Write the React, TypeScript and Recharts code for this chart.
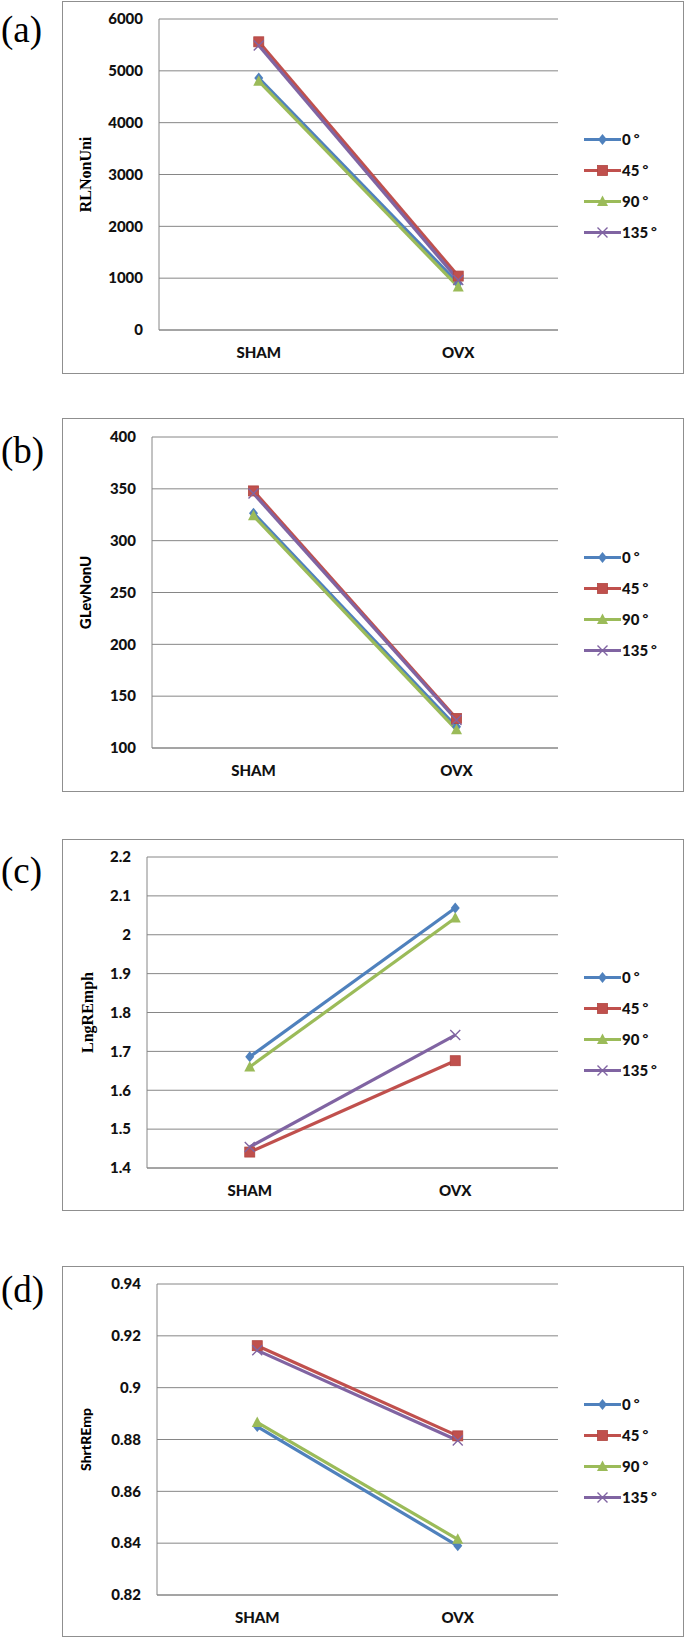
import React from "react";
import { LineChart, Line, XAxis, YAxis, CartesianGrid, Legend, Label } from "recharts";

const groups = ["SHAM", "OVX"];
const angles = ["0°", "45°", "90°", "135°"];
const colors = ["#4F81BD", "#C0504D", "#9BBB59", "#8064A2"];
const shapes = ["diamond", "square", "triangle", "cross"];

// (a) RLNonUni
const rlDeg0 = [4860, 900];
const rlDeg45 = [5560, 1040];
const rlDeg90 = [4800, 830];
const rlDeg135 = [5490, 965];
const rlTicks = [0, 1000, 2000, 3000, 4000, 5000, 6000];

// (b) GLevNonU
const glDeg0 = [326.5, 120.5];
const glDeg45 = [348, 128.5];
const glDeg90 = [324, 117.5];
const glDeg135 = [345.5, 127];
const glTicks = [100, 150, 200, 250, 300, 350, 400];

// (c) LngREmph
const lngDeg0 = [1.686, 2.069];
const lngDeg45 = [1.441, 1.676];
const lngDeg90 = [1.66, 2.043];
const lngDeg135 = [1.454, 1.742];
const lngTicks = [1.4, 1.5, 1.6, 1.7, 1.8, 1.9, 2, 2.1, 2.2];

// (d) ShrtREmp
const shrtDeg0 = [0.885, 0.839];
const shrtDeg45 = [0.9162, 0.8814];
const shrtDeg90 = [0.8866, 0.8415];
const shrtDeg135 = [0.9144, 0.8796];
const shrtTicks = [0.82, 0.84, 0.86, 0.88, 0.9, 0.92, 0.94];

const makeRows = (series: number[][]) =>
  groups.map((g, i) => ({
    group: g,
    s0: series[0][i],
    s1: series[1][i],
    s2: series[2][i],
    s3: series[3][i],
  }));

const panels = [
  {
    tag: "(a)", title: "RLNonUni", serif: true, titleSize: 16,
    rows: makeRows([rlDeg0, rlDeg45, rlDeg90, rlDeg135]), ticks: rlTicks,
    boxTop: 1, boxBottom: 374, plotTop: 19, plotBottom: 330, axisX: 159, tagY: 31, titleX: 85,
  },
  {
    tag: "(b)", title: "GLevNonU", serif: false, titleSize: 15,
    rows: makeRows([glDeg0, glDeg45, glDeg90, glDeg135]), ticks: glTicks,
    boxTop: 418, boxBottom: 792, plotTop: 437, plotBottom: 748, axisX: 152, tagY: 452, titleX: 85,
  },
  {
    tag: "(c)", title: "LngREmph", serif: true, titleSize: 16,
    rows: makeRows([lngDeg0, lngDeg45, lngDeg90, lngDeg135]), ticks: lngTicks,
    boxTop: 839, boxBottom: 1211, plotTop: 857, plotBottom: 1168, axisX: 147, tagY: 872, titleX: 87,
  },
  {
    tag: "(d)", title: "ShrtREmp", serif: false, titleSize: 14,
    rows: makeRows([shrtDeg0, shrtDeg45, shrtDeg90, shrtDeg135]), ticks: shrtTicks,
    boxTop: 1266, boxBottom: 1637, plotTop: 1284, plotBottom: 1595, axisX: 157, tagY: 1291, titleX: 85,
  },
];

const BOX_LEFT = 62;
const BOX_W = 622;
const PLOT_RIGHT = 558;
const GRID = "#868686";
const tickStyle = { fontFamily: "Lato", fontWeight: 900, fontSize: 15, fill: "#111" };

function Marker({ cx, cy, shape, color }: any) {
  if (cx == null || cy == null) return null;
  if (shape === "diamond")
    return <polygon points={`${cx},${cy - 5.5} ${cx + 4.5},${cy} ${cx},${cy + 5.5} ${cx - 4.5},${cy}`} fill={color} />;
  if (shape === "square")
    return <rect x={cx - 5} y={cy - 5} width={10} height={10} fill={color} stroke="#b04540" strokeWidth={0.8} />;
  if (shape === "triangle")
    return <polygon points={`${cx},${cy - 6} ${cx + 5.5},${cy + 4.5} ${cx - 5.5},${cy + 4.5}`} fill={color} />;
  return (
    <path
      d={`M${cx - 5},${cy - 5}L${cx + 5},${cy + 5}M${cx + 5},${cy - 5}L${cx - 5},${cy + 5}`}
      stroke={color}
      strokeWidth={1.4}
    />
  );
}

function LegendBox() {
  return (
    <svg width={100} height={124}>
      {angles.map((a, i) => {
        const y = 15.5 + i * 31;
        return (
          <g key={a}>
            <line x1={0} x2={37} y1={y} y2={y} stroke={colors[i]} strokeWidth={3} />
            <Marker cx={18.5} cy={y} shape={shapes[i]} color={colors[i]} />
            <text x={38} y={y + 5.5} style={tickStyle}>
              {a.replace("°", "")}
              <tspan dx={3} dy={-2} fontSize={14}>°</tspan>
            </text>
          </g>
        );
      })}
    </svg>
  );
}

function Panel({ p }: any) {
  const h = p.boxBottom - p.boxTop;
  const yAxisW = p.axisX - BOX_LEFT;
  const plotW = PLOT_RIGHT - p.axisX;
  const plotMid = (p.plotTop + p.plotBottom) / 2 - p.boxTop;
  const legTop = plotMid - 35.5 - 15.5;
  return (
    <>
      <div
        style={{
          position: "absolute",
          left: BOX_LEFT,
          top: p.boxTop,
          width: BOX_W,
          height: h,
          boxSizing: "border-box",
          border: "1.5px solid #8f8f8f",
        }}
      />
      <div
        style={{
          position: "absolute",
          left: 1,
          top: p.tagY - 24,
          fontFamily: "'Liberation Serif', 'Times New Roman', serif",
          fontSize: 37,
          lineHeight: "46px",
          color: "#000",
        }}
      >
        {p.tag}
      </div>
      <div style={{ position: "absolute", left: BOX_LEFT, top: p.boxTop }}>
        <LineChart
          width={BOX_W}
          height={h}
          data={p.rows}
          margin={{
            top: p.plotTop - p.boxTop,
            right: BOX_W - (PLOT_RIGHT - BOX_LEFT),
            bottom: p.boxBottom - p.plotBottom - 30,
            left: 0,
          }}
        >
          <CartesianGrid vertical={false} stroke={GRID} strokeWidth={1} />
          <XAxis
            dataKey="group"
            height={30}
            tickLine={false}
            tickSize={0}
            tickMargin={17}
            interval={0}
            axisLine={{ stroke: GRID, strokeWidth: 1 }}
            padding={{ left: plotW / 4, right: plotW / 4 }}
            tick={tickStyle}
          />
          <YAxis
            type="number"
            width={yAxisW}
            domain={[p.ticks[0], p.ticks[p.ticks.length - 1]]}
            ticks={p.ticks}
            interval={0}
            tickLine={false}
            tickSize={0}
            tickMargin={16}
            axisLine={{ stroke: GRID, strokeWidth: 1 }}
            tickFormatter={(v: number) => String(v)}
            tick={tickStyle}
          >
            <Label
              content={() => {
                const tx = p.titleX - BOX_LEFT;
                return (
                  <text
                    x={tx}
                    y={plotMid}
                    transform={`rotate(-90 ${tx} ${plotMid})`}
                    textAnchor="middle"
                    dominantBaseline="central"
                    style={{
                      fontFamily: p.serif ? "'Liberation Serif', serif" : "Lato",
                      fontWeight: p.serif ? 700 : 900,
                      fontSize: p.titleSize,
                      fill: "#000",
                    }}
                  >
                    {p.title}
                  </text>
                );
              }}
            />
          </YAxis>
          <Legend
            layout="vertical"
            align="center"
            verticalAlign="middle"
            wrapperStyle={{ left: 584 - BOX_LEFT, top: legTop, width: 100, height: 124 }}
            content={() => <LegendBox />}
          />
          {angles.map((a, i) => (
            <Line
              key={a}
              type="linear"
              dataKey={`s${i}`}
              name={a}
              stroke={colors[i]}
              strokeWidth={3.2}
              isAnimationActive={false}
              activeDot={false}
              dot={(d: any) => (
                <Marker key={`${a}-${d.index}`} cx={d.cx} cy={d.cy} shape={shapes[i]} color={colors[i]} />
              )}
            />
          ))}
        </LineChart>
      </div>
    </>
  );
}

export default function App() {
  return (
    <div
      style={{
        position: "absolute",
        left: 0,
        top: 0,
        width: 685,
        height: 1640,
        background: "#fff",
        overflow: "hidden",
      }}
    >
      {panels.map((p) => (
        <Panel key={p.tag} p={p} />
      ))}
    </div>
  );
}
